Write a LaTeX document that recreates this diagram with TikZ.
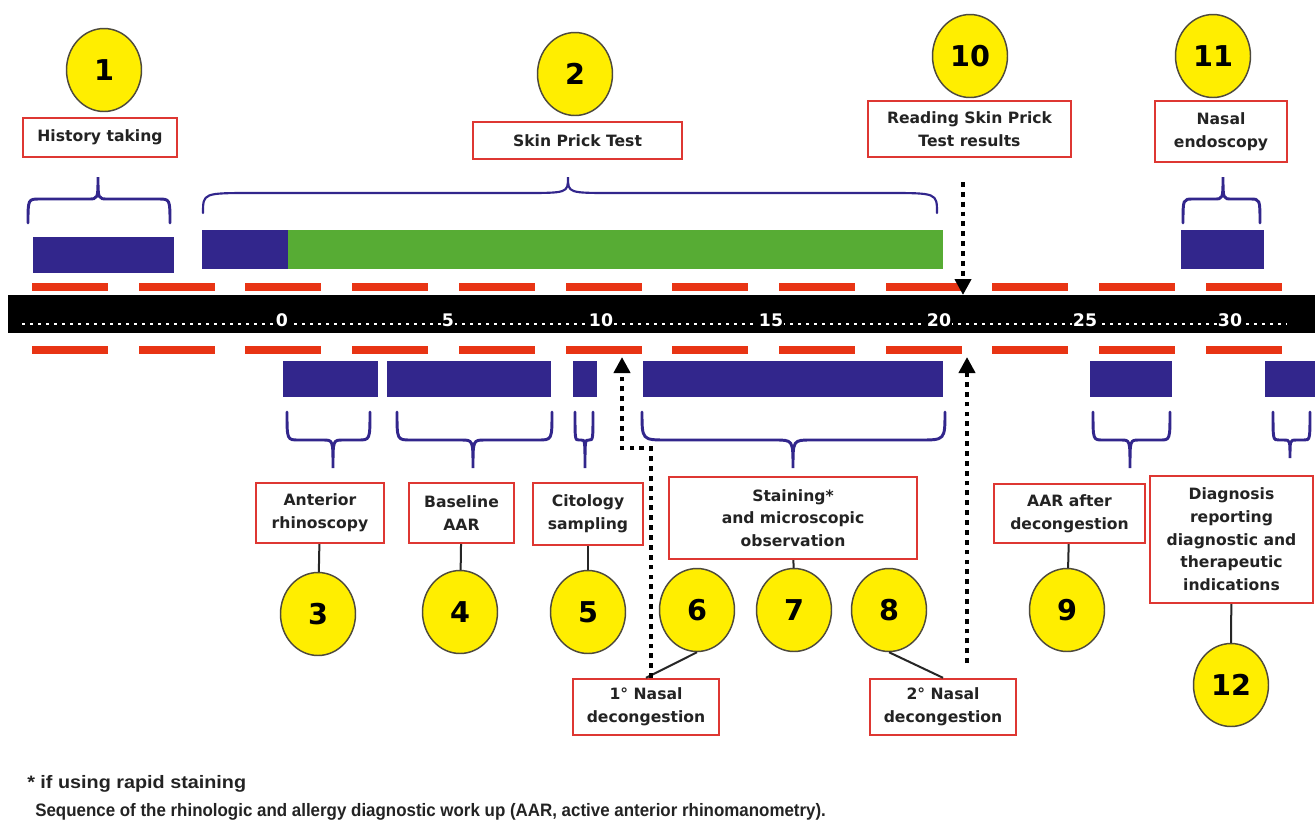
\documentclass[tikz,border=0pt]{standalone}
\usepackage{fontspec}
\newfontfamily\lblfont{DejaVu Sans}
\newfontfamily\footfont{Liberation Sans}
\usetikzlibrary{shapes.geometric,arrows.meta}
\definecolor{navy}{RGB}{50,38,140}
\definecolor{grn}{RGB}{87,172,52}
\definecolor{dashred}{RGB}{232,52,20}
\definecolor{boxred}{RGB}{222,55,50}
\definecolor{yel}{RGB}{255,238,0}
\definecolor{txt}{RGB}{35,35,35}
\newcommand\mybrace[9][]{\draw[brc,#1] (#2,#5) .. controls (#2,#6) and (#2,#6) .. ({#2+#8},#6) -- ({#4-#9},#6) .. controls (#4,#6) and (#4,#6) .. (#4,#7) .. controls (#4,#6) and (#4,#6) .. ({#4+#9},#6) -- ({#3-#8},#6) .. controls (#3,#6) and (#3,#6) .. (#3,#5);}
\begin{document}
\begin{tikzpicture}[x=0.75pt,y=-0.75pt,
 lbl/.style={draw=boxred, line width=1.8pt, fill=white, text=txt, font=\lblfont\bfseries\fontsize{11.7}{17}\selectfont, align=center, inner sep=0pt},
 wh/.style 2 args={minimum width=#1*0.75pt, minimum height=#2*0.75pt},
 num/.style={ellipse, draw=black!80!yellow, line width=1.1pt, fill=yel, minimum width=56.25pt, minimum height=62.25pt, inner sep=0pt, font=\lblfont\bfseries\fontsize{21.5}{22}\selectfont, text=black},
 brc/.style={draw=navy, line width=2.2pt, line cap=round},
 conn/.style={draw=black!85, line width=1.5pt},
 dots/.style={line width=3.6pt, dash pattern=on 3.6pt off 3.8pt, -{Triangle[length=12pt,width=12pt]}},
 tick/.style={fill=black, text=white, font=\lblfont\bfseries\fontsize{13}{13}\selectfont, inner xsep=0.6pt, inner ysep=0pt},
 foot/.style={anchor=west, font=\footfont\bfseries\fontsize{13.5}{15}\selectfont, text=txt, inner sep=0pt}
]
\fill[white] (0,0) rectangle (1315,829);
\useasboundingbox (0,0) rectangle (1315,829);

% red dashes
\foreach \i in {0,...,11}{
  \fill[dashred] ({32+106.7*\i},283) rectangle +(76,8);
  \fill[dashred] ({32+106.7*\i},346) rectangle +(76,8);
}
% black time bar
\fill[black] (8,295) rectangle (1315,333);
\draw[white, line width=2.1pt, dash pattern=on 2.1pt off 3.9pt] (22,324) -- (1287,324);
\node[tick] (t0) at (282,320.5) {0};
\node[tick] (t5) at (448,320.5) {5};
\node[tick] (t10) at (601,320.5) {10};
\node[tick] (t15) at (771,320.5) {15};
\node[tick] (t20) at (939,320.5) {20};
\node[tick] (t25) at (1085,320.5) {25};
\node[tick] (t30) at (1230,320.5) {30};

% upper bars
\fill[navy] (33,237) rectangle (174,273);
\fill[navy] (202,230) rectangle (288,269);
\fill[grn] (288,230) rectangle (943,269);
\fill[navy] (1181,230) rectangle (1264,269);
% lower bars
\fill[navy] (283,361) rectangle (378,397);
\fill[navy] (387,361) rectangle (551,397);
\fill[navy] (573,361) rectangle (597,397);
\fill[navy] (643,361) rectangle (943,397);
\fill[navy] (1090,361) rectangle (1172,397);
\fill[navy] (1265,361) rectangle (1315,397);

% braces
\mybrace{28}{170}{98}{223}{199}{177}{12}{10}
\mybrace[line width=1.6pt]{203}{937}{568}{213}{193}{177}{50}{45}
\mybrace{1183}{1260}{1223}{223}{199}{177}{10}{9}
\mybrace{287}{370}{333}{412}{440}{468}{12}{10}
\mybrace{397}{552}{473}{412}{440}{468}{14}{12}
\mybrace{575}{593}{585}{412}{440}{468}{4}{4}
\mybrace{642}{945}{793}{412}{440}{468}{25}{18}
\mybrace{1093}{1170}{1130}{412}{440}{468}{10}{9}
\mybrace{1273}{1310}{1290}{412}{440}{458}{6}{6}

% labels
\node[lbl, wh={154}{39}] (l1) at (100,137.5) {History taking};
\node[lbl, wh={209}{37}] (l2) at (577.5,140.5) {Skin Prick Test};
\node[lbl, wh={203}{56}] (l10) at (969.5,129) {Reading Skin Prick\\Test results};
\node[lbl, wh={132}{61}] (l11) at (1221,131.5) {Nasal\\endoscopy};
\node[lbl, wh={128}{60}] (l3) at (320,513) {Anterior\\rhinoscopy};
\node[lbl, wh={105}{60}] (l4) at (461.5,513) {Baseline\\AAR};
\node[lbl, wh={110}{62}] (l5) at (588,514) {Citology\\sampling};
\node[lbl, wh={248}{82}] (l7) at (793,518) {Staining*\\and microscopic\\observation};
\node[lbl, wh={151}{59}] (l9) at (1069.5,513.5) {AAR after\\decongestion};
\node[lbl, wh={163}{127}] (l12) at (1231.5,539.5) {Diagnosis\\reporting\\diagnostic and\\therapeutic\\indications};
\node[lbl, wh={146}{56}] (l6) at (646,707) {1° Nasal\\decongestion};
\node[lbl, wh={146}{56}] (l8) at (943,707) {2° Nasal\\decongestion};

% numbered circles
\node[num] (c1) at (104,70) {1};
\node[num] (c2) at (575,74) {2};
\node[num] (c10) at (970,56) {10};
\node[num] (c11) at (1213,56) {11};
\node[num] (c3) at (318,614) {3};
\node[num] (c4) at (460,612) {4};
\node[num] (c5) at (588,612) {5};
\node[num] (c6) at (697,610) {6};
\node[num] (c7) at (794,610) {7};
\node[num] (c8) at (889,610) {8};
\node[num] (c9) at (1067,610) {9};
\node[num] (c12) at (1231,685) {12};

% connectors
\draw[conn] (l3) -- (c3);
\draw[conn] (l4) -- (c4);
\draw[conn] (l5) -- (c5);
\draw[conn] (l7) -- (c7);
\draw[conn] (l9) -- (c9);
\draw[conn] (l12) -- (c12);
\draw[conn] (c6.south) -- (l6.north);
\draw[conn] (c8.south) -- (l8.north);

% dotted arrows
\coordinate (a10s) at (963,182);
\coordinate (a10e) at (963,295);
\draw[dots] (a10s) -- (a10e);
\coordinate (d6s) at (651,678);
\coordinate (d6a) at (651,448);
\coordinate (d6b) at (622,448);
\coordinate (d6e) at (622,357);
\draw[dots] (d6s) -- (d6a) -- (d6b) -- (d6e);
\coordinate (d8s) at (967,663);
\coordinate (d8e) at (967,357);
\draw[dots] (d8s) -- (d8e);

% footnotes
\node[foot] (fn) at (27,784) {\scalebox{1.1}[1]{* if using rapid staining}};
\node[foot] (cap) at (35,812) {\scalebox{0.94}[1]{Sequence of the rhinologic and allergy diagnostic work up (AAR, active anterior rhinomanometry).}};
\end{tikzpicture}
\end{document}
